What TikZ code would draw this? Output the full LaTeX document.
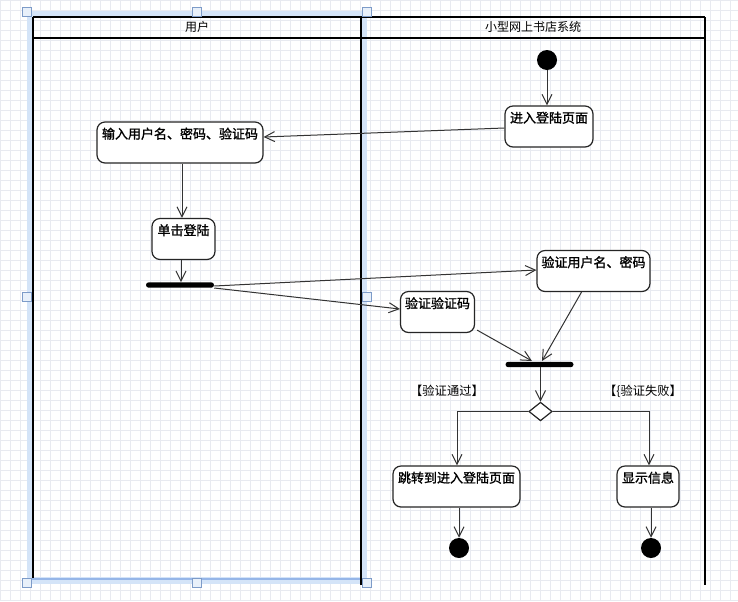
\documentclass[tikz,border=0pt]{standalone}
\usepackage{fontspec}
\newfontfamily\cjk{Noto Sans CJK SC}
\newfontfamily\cjkb[FakeBold=1.3]{Noto Sans CJK SC}
\usetikzlibrary{arrows.meta,shapes.geometric,calc}
\definecolor{selband}{RGB}{212,228,248}
\definecolor{selline}{RGB}{150,182,232}
\definecolor{handlefill}{RGB}{232,240,250}
\definecolor{handledraw}{RGB}{125,155,200}
\definecolor{gridc}{RGB}{232,234,240}
\tikzset{
  gridline/.style={draw=gridc, line width=0.4pt},
  lane/.style={draw=black, line width=1.5pt},
  act/.style={draw=black!85, line width=0.9pt, rounded corners=6pt, fill=white,
    font=\cjkb\fontsize{9.75}{11}\selectfont, inner xsep=0pt, inner ysep=2.5pt,
    text height=10pt, text depth=15.75pt, minimum height=30.75pt, anchor=center},
  conn/.style={draw=black!80, line width=0.75pt, -{Straight Barb[length=7.5pt,width=7.5pt]}},
  bar/.style={fill=black, rounded corners=2pt, inner sep=0pt, minimum height=4pt},
  initial/.style={circle, fill=black, inner sep=0pt, minimum size=15pt},
  decision/.style={diamond, draw=black!85, fill=white, line width=0.9pt, inner sep=0pt, minimum width=17.5pt, minimum height=14pt},
  guard/.style={font=\cjk\fontsize{9.2}{10}\selectfont, inner sep=0pt},
  header/.style={font=\cjk\fontsize{9}{10}\selectfont, inner sep=0pt},
  handle/.style={draw=handledraw, fill=handlefill, line width=0.7pt, minimum size=7pt, inner sep=0pt, rectangle},
}
\begin{document}
\begin{tikzpicture}[x=0.75pt, y=-0.75pt]
\useasboundingbox (0,0) rectangle (738,601);
\fill[white] (0,0) rectangle (738,601);
% grid background
\draw[gridline, step=7.5pt] (0,0) grid (738,601);
% selection highlight
\draw[selband, line width=5pt] (30,14.5) rectangle (364,580.5);
\draw[selline, line width=0.8pt] (27,579) -- (367,579);
% swimlanes
\draw[lane] (33,17) -- (705,17);
\draw[lane] (33,38) -- (705,38);
\draw[lane] (33,17) -- (33,578);
\draw[lane] (361,17) -- (361,585);
\draw[lane] (705,17) -- (705,585);
\node[header] (h1) at (197,27) {用户};
\node[header] (h2) at (533,27) {小型网上书店系统};
% handles
\node[handle] (s1) at (27,12) {};
\node[handle] (s2) at (197,12) {};
\node[handle] (s3) at (367,12) {};
\node[handle] (s4) at (27,297) {};
\node[handle] (s5) at (367,297) {};
\node[handle] (s6) at (27,583) {};
\node[handle] (s7) at (197,583) {};
\node[handle] (s8) at (367,583) {};
% nodes
\node[initial] (start) at (547,60) {};
\node[act, minimum width=66pt] (enter) at (549,126.5) {进入登陆页面};
\node[act, minimum width=124.5pt] (input) at (180,142.5) {输入用户名、密码、验证码};
\node[act, minimum width=47.25pt] (click) at (183.5,239) {单击登陆};
\node[bar, minimum width=51pt] (bar1) at (180,285) {};
\node[act, minimum width=84.75pt] (vup) at (593.5,271) {验证用户名、密码};
\node[act, minimum width=55.5pt] (vcode) at (437.5,312) {验证验证码};
\node[bar, minimum width=51pt] (bar2) at (539.5,364.5) {};
\node[decision] (dec) at (540.5,411.5) {};
\node[guard] (g1) at (447,391) {【验证通过】};
\node[guard] (g2) at (643,391) {【\{验证失败】};
\node[act, minimum width=95.25pt] (jump) at (456.5,486.5) {跳转到进入登陆页面};
\node[act, minimum width=46.5pt] (show) at (648,486.5) {显示信息};
\node[initial] (end1) at (459,548) {};
\node[initial] (end2) at (651,548) {};
% connectors
\draw[conn] (start) -- (start |- enter.north);
\draw[conn] ($(enter.west)+(0,1.5)$) -- ($(input.east)+(0,-5.5)$);
\draw[conn] (input.south -| 182,0) -- (click.north -| 182,0);
\draw[conn] (click.south -| 181,0) -- (bar1.north -| 181,0);
\draw[conn] ($(bar1.east)+(0,1)$) -- ($(vup.west)+(0,-1)$);
\draw[conn] ($(bar1.east)+(0,3)$) -- ($(vcode.west)+(0,-3)$);
\draw[conn] ($(vup.south)+(-12,0)$) -- (542,361);
\draw[conn] ($(vcode.south east)+(2,-3)$) -- (532,361);
\draw[conn] (bar2.south -| dec) -- (dec.north);
\draw[conn] (dec.west) -| (jump.north -| 457,0);
\draw[conn] (dec.east) -| (show.north -| 649,0);
\draw[conn] (jump.south -| 459,0) -- (end1);
\draw[conn] (show.south -| 651,0) -- (end2);
\end{tikzpicture}
\end{document}
